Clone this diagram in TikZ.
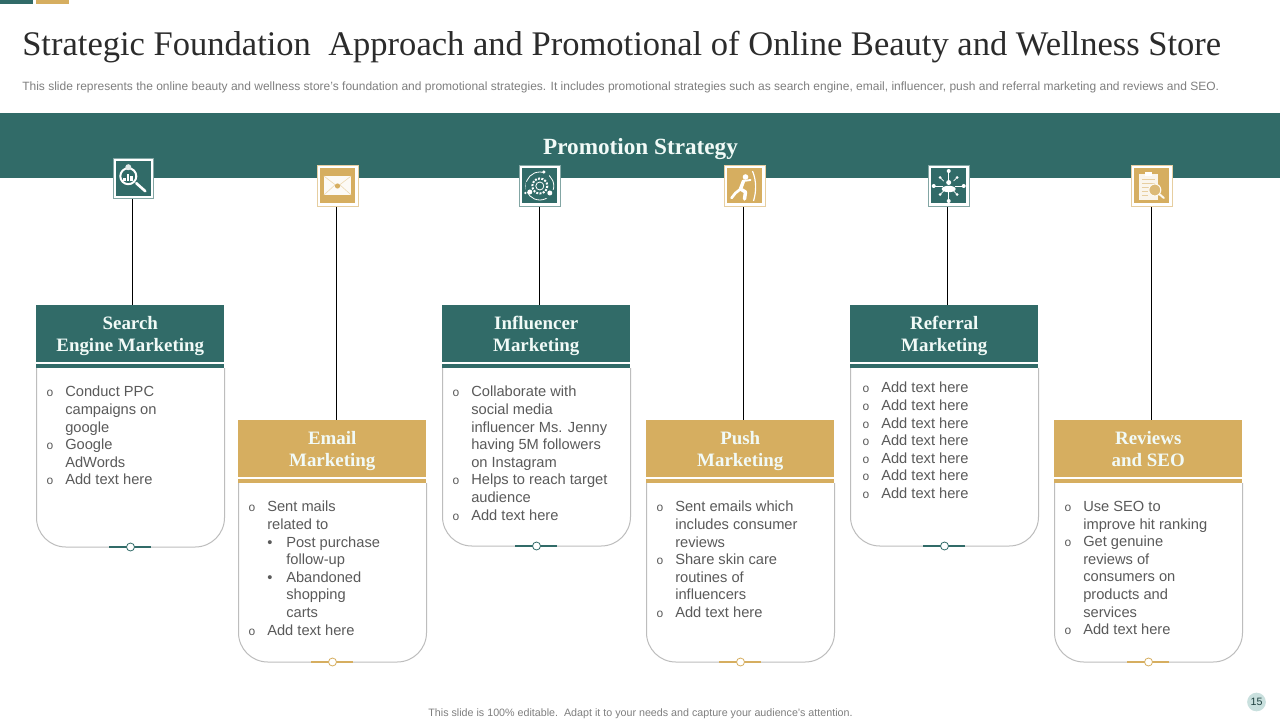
\documentclass[tikz,border=0pt]{standalone}
\usepackage{fontspec}
\setmainfont{Liberation Sans}
\newfontfamily\seriffam{Liberation Serif}
\newfontfamily\monofam{Liberation Mono}
\definecolor{tealc}{HTML}{316B68}
\definecolor{goldc}{HTML}{D6AE60}
\definecolor{bodytext}{HTML}{5A5A5A}
\definecolor{subtext}{HTML}{7F7F7F}
\definecolor{titletext}{HTML}{2B2B2B}
\definecolor{headtext}{HTML}{F1FAF7}
\definecolor{cardline}{HTML}{BDBDBD}
\definecolor{pagec}{HTML}{C9E0DE}
\newcommand\itm[1]{\makebox[14.25pt][l]{\monofam\fontsize{9}{13}\selectfont o}#1}
\newcommand\cnt[1]{\hspace*{14.25pt}#1}
\newcommand\itmb[1]{\hspace*{14.25pt}\makebox[14.25pt][l]{•}#1}
\tikzset{
  x=0.75pt,y=-0.75pt,
  headbox/.style={minimum width=141pt,minimum height=42.75pt,inner sep=0pt,anchor=north west,align=center,
    text=headtext,font=\seriffam\bfseries\fontsize{14.2}{16.6}\selectfont},
  bodytxt/.style={inner sep=0pt,anchor=north west,align=left,text=bodytext,
    font=\fontsize{11}{13.2}\selectfont},
  cardedge/.style={draw=cardline,line width=0.75pt,rounded corners=22pt},
  iconframe/.style={minimum size=30.5pt,inner sep=0pt,fill=white,line width=0.5pt},
  conn/.style={draw=black,line width=0.75pt},
  pale/.style={line width=0.5pt},
}
% \card{id}{x}{top}{bottom}{colour}{heading}
\newcommand\card[6]{%
  \node[headbox,fill=#5] (head#1) at (#2,#3) {\rule{0pt}{14.6pt}#6\strut};
  \fill[#5] (#2,#3+59) rectangle (#2+188,#3+63);
  \draw[cardedge] (#2+.5,#3+63) -- (#2+.5,#4) -- (#2+188.5,#4) -- (#2+188.5,#3+63);
  \draw[#5,line width=1.5pt] (#2+73,#4) -- (#2+115,#4);
  \node[circle,draw=#5,fill=white,line width=.6pt,minimum size=6pt,inner sep=0pt] (dot#1) at (#2+94.5,#4) {};
}
% \iconbox{id}{cx}{cy}{colour}
\newcommand\iconbox[4]{%
  \node[iconframe,draw=#4!60!white] (icon#1) at (#2,#3) {};
  \fill[#4] (#2-17.5,#3-17.5) rectangle (#2+17.5,#3+17.5);
}
\begin{document}
\begin{tikzpicture}
\useasboundingbox (0,0) rectangle (1280,720);
\fill[white] (0,0) rectangle (1280,720);
% top tabs
\fill[tealc] (0,0) rectangle (33,4.5);
\fill[goldc] (36,0) rectangle (69,4.5);
% title
\node[anchor=west,inner sep=0pt,text=titletext,font=\seriffam\fontsize{25.9}{30}\selectfont] (title) at (22,47)
  {Strategic Foundation\ \ Approach and Promotional of Online Beauty and Wellness Store};
\node[anchor=west,inner sep=0pt,text=subtext,font=\fontsize{9}{11}\selectfont] (subtitle) at (22,87)
  {This slide represents the online beauty and wellness store’s foundation and promotional strategies. It includes promotional strategies such as search engine, email, influencer, push and referral marketing and reviews and SEO.};
% band
\fill[tealc] (0,113) rectangle (1280,178);
\node[text=headtext,inner sep=0pt,font=\seriffam\bfseries\fontsize{17.4}{20}\selectfont] (band) at (640.5,149) {Promotion Strategy};
% cards
\card{a}{36}{305}{547}{tealc}{Search\\Engine Marketing}
\card{b}{238}{420}{662}{goldc}{Email\\Marketing}
\card{c}{442}{305}{546}{tealc}{Influencer\\Marketing}
\card{d}{646}{420}{662}{goldc}{Push\\Marketing}
\card{e}{850}{305}{546}{tealc}{Referral\\Marketing}
\card{f}{1054}{420}{662}{goldc}{Reviews\\and SEO}
% body texts
\node[bodytxt] (txta) at (46,386) {\itm{Conduct PPC}\\\cnt{campaigns on}\\\cnt{google}\\\itm{Google}\\\cnt{AdWords}\\\itm{Add text here}};
\node[bodytxt] (txtb) at (248,501) {\itm{Sent mails}\\\cnt{related to}\\\itmb{Post purchase}\\\cnt{\cnt{follow-up}}\\\itmb{Abandoned}\\\cnt{\cnt{shopping}}\\\cnt{\cnt{carts}}\\\itm{Add text here}};
\node[bodytxt] (txtc) at (452,386) {\itm{Collaborate with}\\\cnt{social media}\\\cnt{influencer Ms. Jenny}\\\cnt{having 5M followers}\\\cnt{on Instagram}\\\itm{Helps to reach target}\\\cnt{audience}\\\itm{Add text here}};
\node[bodytxt] (txtd) at (656,501) {\itm{Sent emails which}\\\cnt{includes consumer}\\\cnt{reviews}\\\itm{Share skin care}\\\cnt{routines of}\\\cnt{influencers}\\\itm{Add text here}};
\node[bodytxt] (txte) at (862,382) {\itm{Add text here}\\\itm{Add text here}\\\itm{Add text here}\\\itm{Add text here}\\\itm{Add text here}\\\itm{Add text here}\\\itm{Add text here}};
\node[bodytxt] (txtf) at (1064,501) {\itm{Use SEO to}\\\cnt{improve hit ranking}\\\itm{Get genuine}\\\cnt{reviews of}\\\cnt{consumers on}\\\cnt{products and}\\\cnt{services}\\\itm{Add text here}};
% icons
\iconbox{a}{133.3}{178.2}{tealc}
\iconbox{b}{337.5}{186}{goldc}
\iconbox{c}{539.8}{186}{tealc}
\iconbox{d}{744.5}{186}{goldc}
\iconbox{e}{948.7}{186}{tealc}
\iconbox{f}{1151.8}{186}{goldc}
% connectors
\draw[conn] ([xshift=-.6pt]icona.south) -- ([xshift=-.6pt]icona.south |- heada.north);
\draw[conn] ([xshift=-.6pt]iconb.south) -- ([xshift=-.6pt]iconb.south |- headb.north);
\draw[conn] ([xshift=-.4pt]iconc.south) -- ([xshift=-.4pt]iconc.south |- headc.north);
\draw[conn] ([xshift=-.8pt]icond.south) -- ([xshift=-.8pt]icond.south |- headd.north);
\draw[conn] ([xshift=-.9pt]icone.south) -- ([xshift=-.9pt]icone.south |- heade.north);
\draw[conn] ([xshift=-.4pt]iconf.south) -- ([xshift=-.4pt]iconf.south |- headf.north);
% glyph: search
\begin{scope}[shift={(133.3,178.2)}]
  \draw[white,line width=1.5pt] (-5,-2) circle (8);
  \fill[white] (-10,3) rectangle (-7.5,0);
  \fill[white] (-6.5,3) rectangle (-4,-4);
  \fill[white] (-3,3) rectangle (-.5,-2);
  \fill[white!85!tealc] (-5,-11) circle (3);
  \draw[white,line width=2pt,line cap=round] (3,5) -- (12,13);
\end{scope}
% glyph: mail
\begin{scope}[shift={(337.5,185.5)}]
  \fill[white!94!goldc] (-13.7,-9.5) rectangle (13.7,9.5);
  \draw[pale,draw=goldc!45!white] (-13.7,-9.5) -- (0,1) -- (13.7,-9.5) (-13.7,9.5) -- (-2,-1) (13.7,9.5) -- (2,-1);
  \fill[goldc] (0,.5) circle (2.6);
\end{scope}
% glyph: influencer
\begin{scope}[shift={(539.8,186)}]
  \draw[white,line width=.6pt] (0,0) circle (14);
  \fill[tealc] (-14,-4) rectangle (-6,6) (6,4) rectangle (14,12) (3,-16) rectangle (9,-9);
  \draw[white,line width=1.5pt,dash pattern=on 1.5pt off 1pt] (0,0) circle (7.5);
  \draw[white,line width=.6pt] (0,0) circle (4);
  \fill[white] (-10,6) circle (2.5) (-14.5,7) circle (1.3) (10,7) circle (2.5) (4,-14) circle (1.8);
\end{scope}
% glyph: push
\begin{scope}[shift={(744.5,186)}]
  \fill[white] (1,-9) circle (2.8);
  \draw[white,line width=2.6pt,line cap=round,line join=round] (-1,-5) -- (-4,3) -- (1,6) -- (0,13);
  \draw[white,line width=2pt,line cap=round,line join=round] (-4,3) -- (-9,7) -- (-13,12);
  \draw[white,line width=1.4pt,line cap=round] (-1,-5) -- (6,-6);
  \draw[white,line width=.9pt] (8,-15) .. controls (12,-5) and (12,5) .. (9,15);
\end{scope}
% glyph: referral
\begin{scope}[shift={(948.7,186)}]
  \foreach \a in {0,90,180,270}{
    \draw[white,line width=.5pt] (\a:6) -- (\a:14);
    \fill[white] (\a:15) circle (2);
  }
  \foreach \a in {45,135,225,315}{
    \draw[white,line width=.5pt] (\a:7) -- (\a:11);
    \fill[white] (\a:12) circle (1.5);
  }
  \fill[white] (0,-3.5) circle (2.5);
  \fill[white] (0,3) ellipse (7 and 3.2);
\end{scope}
% glyph: reviews
\begin{scope}[shift={(1151.8,186)}]
  \fill[white!88!goldc] (-13,-12) rectangle (6,14);
  \fill[white] (-7,-14) rectangle (0,-10);
  \draw[goldc!60!white,line width=.5pt] (-10,-7) -- (3,-7) (-10,-3) -- (3,-3) (-10,1) -- (-2,1) (-10,5) -- (-4,5) (-10,9) -- (-4,9);
  \draw[white!92!goldc,fill=goldc!85!white,line width=.8pt] (3,4) circle (6);
  \draw[white!92!goldc,line width=1.5pt,line cap=round] (8,8.5) -- (12,12);
\end{scope}
% footer
\node[text=subtext,inner sep=0pt,font=\fontsize{8.03}{10}\selectfont] (footer) at (640.5,713.5)
  {This slide is 100\% editable.\ \ Adapt it to your needs and capture your audience's attention.};
\node[circle,fill=pagec,minimum size=14pt,inner sep=0pt,text=tealc!60!black,font=\fontsize{8}{10}\selectfont] (page) at (1256.5,702) {15};
\end{tikzpicture}
\end{document}
